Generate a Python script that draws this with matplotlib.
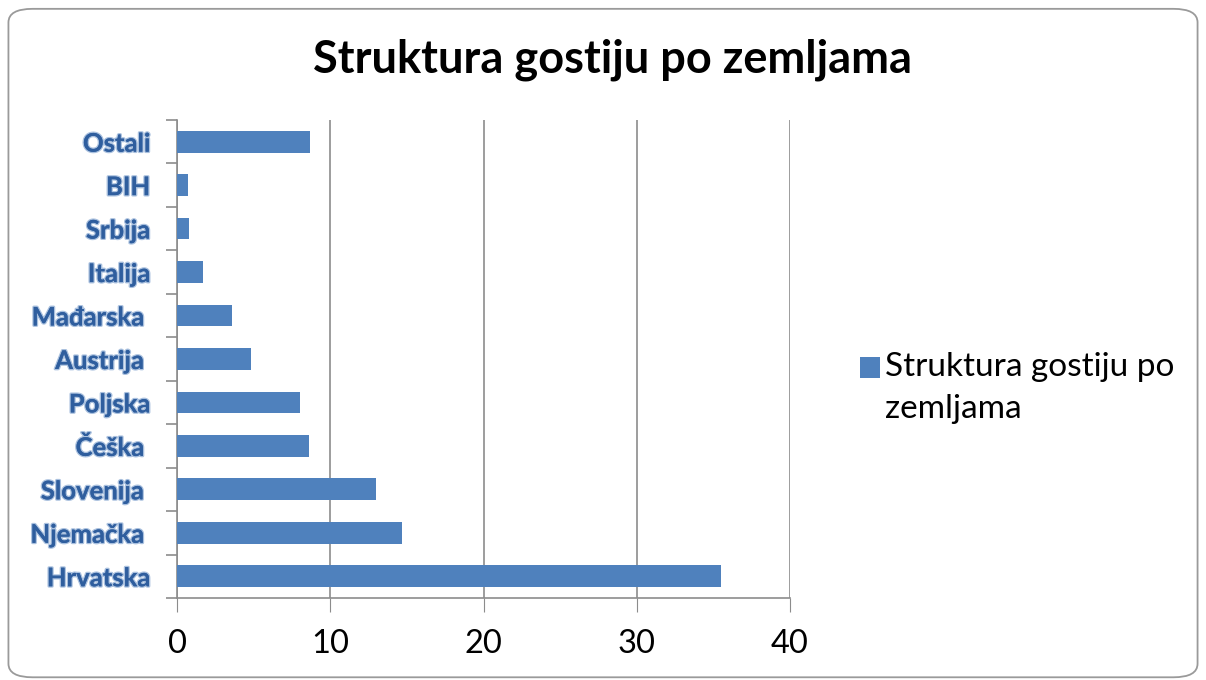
import matplotlib.pyplot as plt
import matplotlib.patheffects as pe
from matplotlib.patches import FancyBboxPatch, Rectangle
from matplotlib.legend_handler import HandlerPatch
from matplotlib.container import BarContainer
import numpy as np

zemlje = ['Hrvatska', 'Njemačka ', 'Slovenija ', 'Češka ', 'Poljska', 'Austrija ',
          'Mađarska ', 'Italija', 'Srbija', 'BIH', 'Ostali']
udio = [35.5, 14.7, 13.0, 8.6, 8.0, 4.8, 3.6, 1.7, 0.8, 0.7, 8.7]
xticks = [0, 10, 20, 30, 40]

plava = '#4F81BD'
siva = '#8C8C8C'

fig = plt.figure(figsize=(12.06, 6.8), dpi=100)
ax = fig.add_axes([0.1468, 0.1206, 0.5083, 0.703])

y = np.arange(len(zemlje))
ax.barh(y, udio, height=0.5, color=plava, label='Struktura gostiju po\nzemljama', zorder=3)

ax.set_xlim(0, 40)
ax.set_ylim(-0.5, len(zemlje) - 0.5)
ax.set_xticks(xticks)
ax.set_xticklabels([str(t) for t in xticks], fontsize=23.5, family='Lato')
ax.tick_params(axis='x', length=10, color=siva, pad=12)
ax.grid(axis='x', color=siva, lw=1.2, zorder=0)

ax.set_yticks(y)
ax.set_yticklabels(zemlje, fontsize=18.5, fontweight='bold', family='Lato', color='#2F5E9E')
ax.tick_params(axis='y', length=0, pad=19)
ax.set_yticks(np.arange(-0.5, len(zemlje), 1), minor=True)
ax.tick_params(axis='y', which='minor', length=8, color=siva, width=1.2)
for t in ax.get_yticklabels():
    t.set_path_effects([pe.withStroke(linewidth=2, foreground='#A9C0DE'), pe.Normal()])

for s in ['top', 'right']:
    ax.spines[s].set_visible(False)
for s in ['left', 'bottom']:
    ax.spines[s].set_color(siva)
    ax.spines[s].set_linewidth(1.2)

fig.text(0.508, 0.912, 'Struktura gostiju po zemljama', ha='center', va='center',
         fontsize=32.5, fontweight='bold', family='Lato')


# kvadratic legende uz prvi red teksta
def kvadrat(legend, orig_handle, xdescent, ydescent, width, height, fontsize):
    return Rectangle((-xdescent, -ydescent + 15), width, height)


def boja(legend_handle, orig_handle):
    legend_handle.update_from(orig_handle[0])


leg = ax.legend(loc='center left', bbox_to_anchor=(1.114, 0.439), frameon=False,
                prop={'family': 'Lato', 'size': 24}, handlelength=0.6, handleheight=0.6,
                handletextpad=0.15, borderaxespad=0, borderpad=0,
                handler_map={BarContainer: HandlerPatch(patch_func=kvadrat, update_func=boja)})
leg.get_texts()[0].set_linespacing(1.5)

rama = FancyBboxPatch((0.007, 0.004), 0.986, 0.983, boxstyle='round,pad=0,rounding_size=0.02',
                      transform=fig.transFigure, fill=False, edgecolor='#9A9A9A', lw=1.3)
fig.patches.append(rama)

fig.savefig('out.png', dpi=100)
